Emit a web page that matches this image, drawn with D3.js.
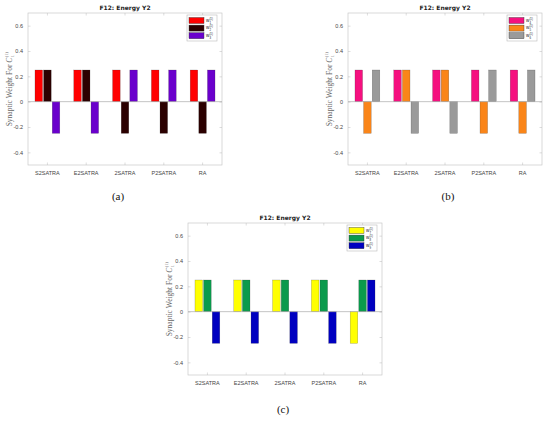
<!DOCTYPE html>
<html>
<head>
<style>
    body { margin: 0; background: #fff; }
    .tick-label { font-family: "Liberation Sans", "DejaVu Sans", sans-serif; font-size: 5.5px; fill: #444; }
    .title { font-family: "DejaVu Sans", sans-serif; font-size: 6px; font-weight: bold; fill: #222; }
    .ylab { font-family: "Liberation Serif", "DejaVu Serif", serif; fill: #666; }
    .leg { font-family: "Liberation Sans", sans-serif; fill: #222; }
    .panel-tag { font-family: "Liberation Serif", serif; font-size: 11px; fill: #111; }
</style>
<script src="https://d3js.org/d3.v7.min.js"></script>
</head>
<body>
<svg id="chart" width="550" height="421"></svg>
<script>
    var categories = ["S2SATRA", "E2SATRA", "2SATRA", "P2SATRA", "RA"];
    var yTicks = [-0.4, -0.2, 0, 0.2, 0.4, 0.6];

    // panel (a)
    var seriesA1 = [0.25, 0.25, 0.25, 0.25, 0.25];
    var seriesA2 = [0.25, 0.25, -0.25, -0.25, -0.25];
    var seriesA3 = [-0.25, -0.25, 0.25, 0.25, 0.25];
    // panel (b)
    var seriesB1 = [0.25, 0.25, 0.25, 0.25, 0.25];
    var seriesB2 = [-0.25, 0.25, 0.25, -0.25, -0.25];
    var seriesB3 = [0.25, -0.25, -0.25, 0.25, 0.25];
    // panel (c)
    var seriesC1 = [0.25, 0.25, 0.25, 0.25, -0.25];
    var seriesC2 = [0.25, 0.25, 0.25, 0.25, 0.25];
    var seriesC3 = [-0.25, -0.25, -0.25, -0.25, 0.25];

    var legendA = ["1", "2", "3"];
    var legendB = ["4", "5", "6"];
    var legendC = ["7", "8", "9"];

    var panels = [
        { tag: "(a)", left: 28, top: 13, tagX: 118, tagY: 200,
          series: [seriesA1, seriesA2, seriesA3], subs: legendA,
          colors: ["#ff0000", "#2b0000", "#6a00cc"] },
        { tag: "(b)", left: 348, top: 13, tagX: 448, tagY: 200,
          series: [seriesB1, seriesB2, seriesB3], subs: legendB,
          colors: ["#f5107f", "#fa8519", "#9a9a9a"] },
        { tag: "(c)", left: 188, top: 223, tagX: 283, tagY: 413,
          series: [seriesC1, seriesC2, seriesC3], subs: legendC,
          colors: ["#ffff00", "#0b9a4c", "#0000c0"] }
    ];

    var width = 194, height = 152;
    var svg = d3.select("#chart");

    function fmt(d) {
        return d === 0 ? "0" : (d < 0 ? "-" : "") + Math.abs(d).toFixed(1);
    }

    panels.forEach(function (p) {
        var g = svg.append("g").attr("transform", "translate(" + p.left + "," + p.top + ")");

        var x = d3.scaleBand().domain(categories).range([0, width]);
        var inner = d3.scaleBand().domain([0, 1, 2])
            .range([-x.bandwidth() / 3, x.bandwidth() / 3])
            .paddingInner(0.12).paddingOuter(0.06);
        var y = d3.scaleLinear().domain([-0.5, 0.7]).range([height, 0]);

        // box
        g.append("rect").attr("width", width).attr("height", height)
            .attr("fill", "none").attr("stroke", "#c8c8c8").attr("stroke-width", 0.7);

        // y ticks (left + right, inward)
        var ya = g.append("g").call(d3.axisLeft(y).tickValues(yTicks).tickSize(-2.5).tickPadding(5).tickFormat(fmt));
        ya.select(".domain").remove();
        ya.selectAll(".tick line").attr("stroke", "#bbb").attr("stroke-width", 0.5);
        ya.selectAll(".tick text").attr("class", "tick-label");

        var yr = g.append("g").attr("transform", "translate(" + width + ",0)")
            .call(d3.axisRight(y).tickValues(yTicks).tickSize(-2.5).tickFormat(""));
        yr.select(".domain").remove();
        yr.selectAll(".tick line").attr("stroke", "#bbb").attr("stroke-width", 0.5);

        // x ticks (bottom + top, inward)
        var xa = g.append("g").attr("transform", "translate(0," + height + ")")
            .call(d3.axisBottom(x).tickSize(-2.5).tickPadding(6));
        xa.select(".domain").remove();
        xa.selectAll(".tick line").attr("stroke", "#bbb").attr("stroke-width", 0.5);
        xa.selectAll(".tick text").attr("class", "tick-label");

        var xt = g.append("g").call(d3.axisTop(x).tickSize(-2.5).tickFormat(""));
        xt.select(".domain").remove();
        xt.selectAll(".tick line").attr("stroke", "#bbb").attr("stroke-width", 0.5);

        // bars
        p.series.forEach(function (vals, si) {
            g.append("g").selectAll("rect")
                .data(vals)
                .enter()
                .append("rect")
                .attr("x", function (d, i) { return x(categories[i]) + x.bandwidth() / 2 + inner(si); })
                .attr("y", function (d) { return y(Math.max(0, d)); })
                .attr("width", inner.bandwidth())
                .attr("height", function (d) { return Math.abs(y(d) - y(0)); })
                .attr("fill", p.colors[si])
                .attr("stroke", "#333")
                .attr("stroke-opacity", 0.5)
                .attr("stroke-width", 0.4);
        });

        // zero baseline
        g.append("line").attr("x1", 0).attr("x2", width)
            .attr("y1", y(0)).attr("y2", y(0))
            .attr("stroke", "#aaa").attr("stroke-width", 0.7);

        // title
        g.append("text").attr("class", "title")
            .attr("x", width / 2).attr("y", -3)
            .attr("text-anchor", "middle").text("F12: Energy Y2");

        // y label: Synaptic Weight For C_1^(1)
        var yl = g.append("g").attr("transform", "translate(-16," + height / 2 + ") rotate(-90)");
        var main = yl.append("text").attr("class", "ylab").style("font-size", "7.5px")
            .attr("x", -3).attr("text-anchor", "middle")
            .text("Synaptic Weight For ");
        main.append("tspan").attr("font-style", "italic").text("C");
        var endX = -3 + main.node().getComputedTextLength() / 2 + 0.4;
        yl.append("text").attr("class", "ylab").style("font-size", "4.5px")
            .attr("x", endX).attr("y", -3.6).text("(1)");
        yl.append("text").attr("class", "ylab").style("font-size", "4.5px")
            .attr("x", endX).attr("y", 1.6).text("1");

        // legend
        var lg = g.append("g").attr("transform", "translate(" + (width - 35) + ",2)");
        lg.append("rect").attr("width", 30).attr("height", 26)
            .attr("fill", "#fff").attr("stroke", "#bbb").attr("stroke-width", 0.6);
        p.subs.forEach(function (s, i) {
            var row = lg.append("g").attr("transform", "translate(2," + (2.5 + i * 7.6) + ")");
            row.append("rect").attr("width", 15).attr("height", 6)
                .attr("fill", p.colors[i]).attr("stroke", "#333").attr("stroke-width", 0.4);
            row.append("text").attr("class", "leg").style("font-size", "4.5px")
                .attr("x", 17).attr("y", 4.3).text("w");
            row.append("text").attr("class", "leg").style("font-size", "2.8px")
                .attr("x", 20.4).attr("y", 2.2).text("(1)");
            row.append("text").attr("class", "leg").style("font-size", "2.8px")
                .attr("x", 20.4).attr("y", 6.2).text(s);
        });

        // panel tag
        svg.append("text").attr("class", "panel-tag")
            .attr("x", p.tagX).attr("y", p.tagY)
            .attr("text-anchor", "middle").text(p.tag);
    });
</script>
</body>
</html>
